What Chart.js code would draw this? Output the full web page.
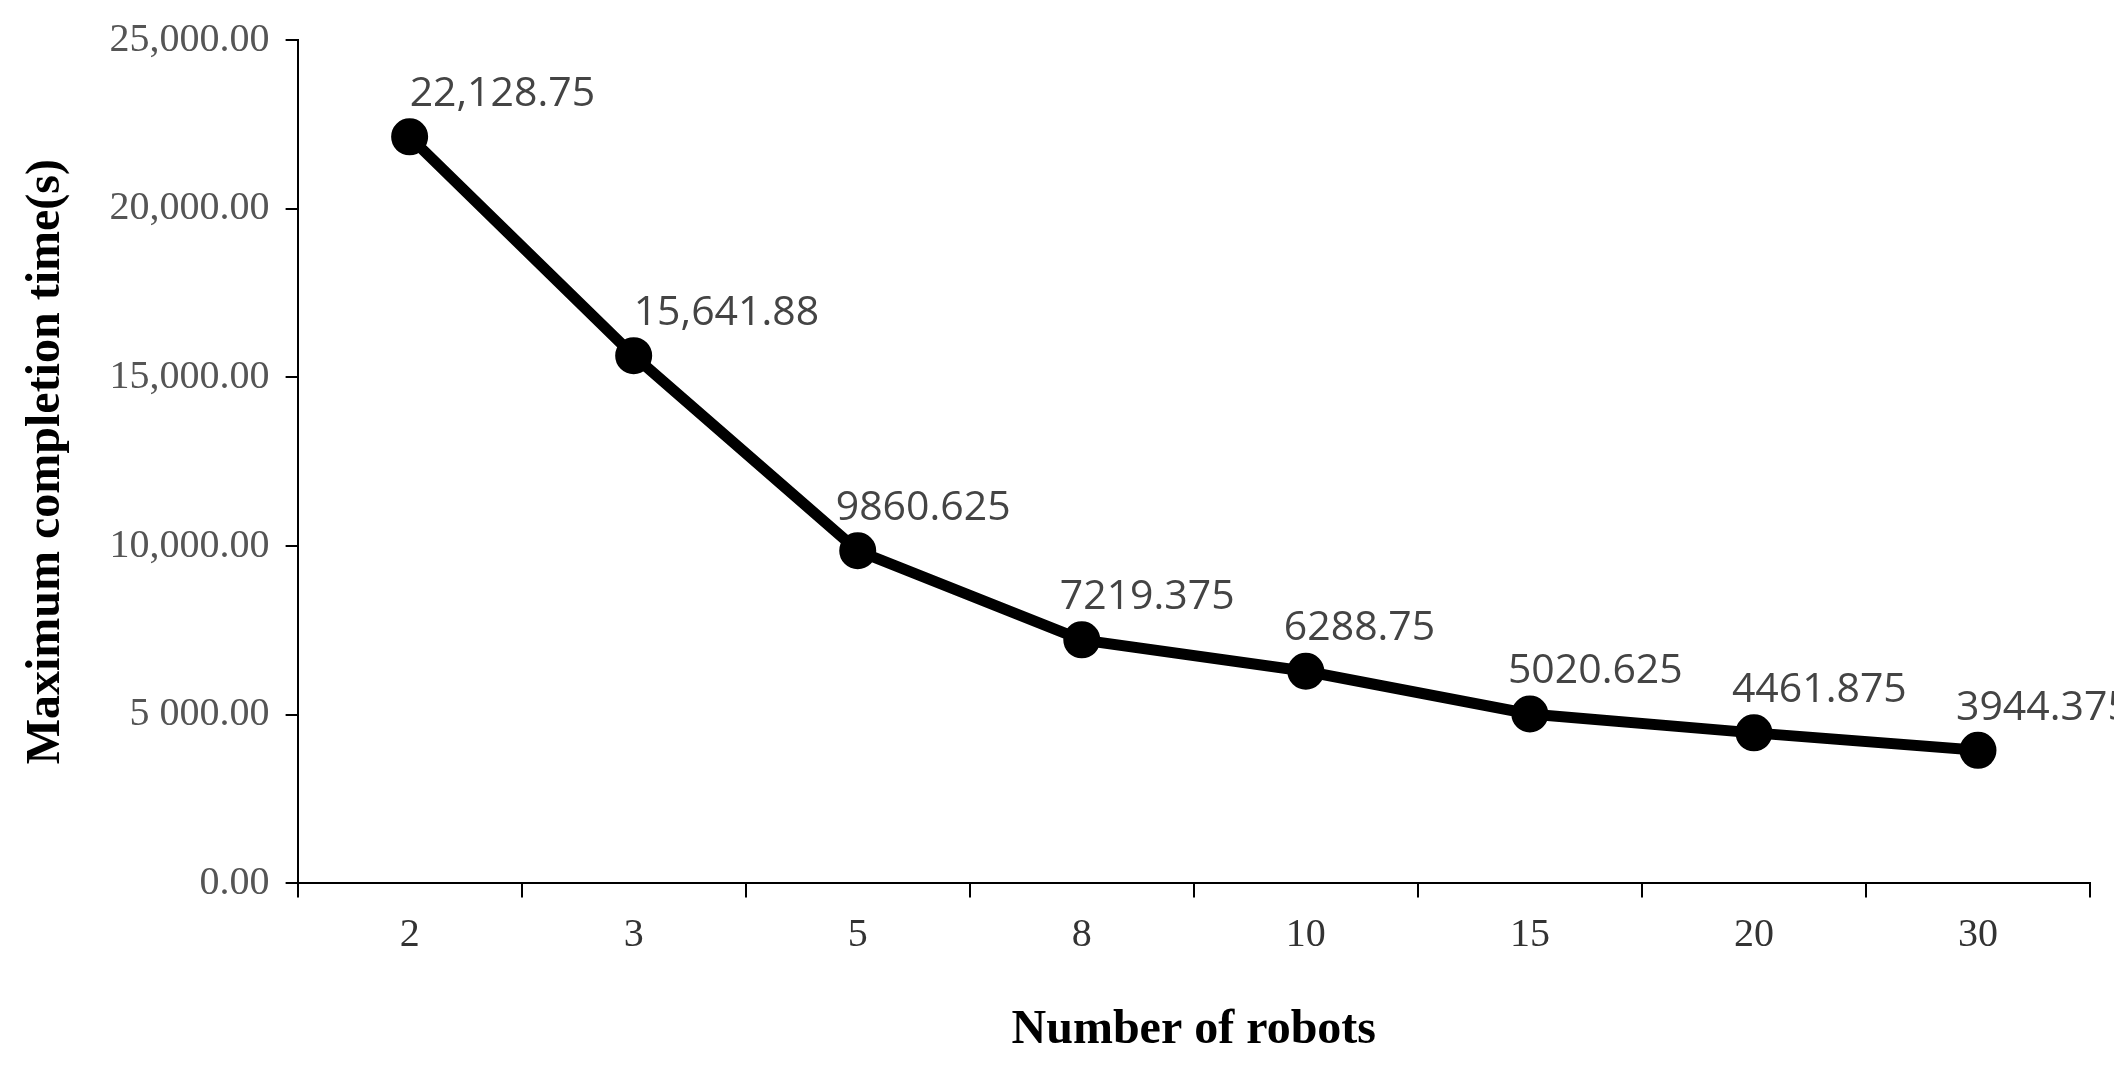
<!DOCTYPE html>
<html>
<head>
<meta charset="utf-8">
<script src="https://cdn.jsdelivr.net/npm/chart.js@4"></script>
<style>
  html, body { margin: 0; padding: 0; background: #fff; }
  #wrap { width: 2114px; height: 1081px; }
</style>
</head>
<body>
<div id="wrap"><canvas id="grafico"></canvas></div>
<script>
// dados
const robots = ['2', '3', '5', '8', '10', '15', '20', '30'];
const completionTime = [22128.75, 15641.88, 9860.625, 7219.375, 6288.75, 5020.625, 4461.875, 3944.375];
const pointLabels = ['22,128.75', '15,641.88', '9860.625', '7219.375', '6288.75', '5020.625', '4461.875', '3944.375'];
const yTickLabels = { 0: '0.00', 5000: '5 000.00', 10000: '10,000.00', 15000: '15,000.00', 20000: '20,000.00', 25000: '25,000.00' };

// rótulos dos pontos
const rotulos = {
  id: 'rotulos',
  afterDatasetsDraw(chart) {
    const ctx = chart.ctx;
    const meta = chart.getDatasetMeta(0);
    ctx.save();
    ctx.font = '41px "Open Sans", sans-serif';
    ctx.fillStyle = '#444';
    ctx.textAlign = 'left';
    ctx.textBaseline = 'bottom';
    meta.data.forEach((p, i) => {
      const dx = i < 2 ? 0 : -22;
      ctx.fillText(pointLabels[i], p.x + dx, p.y - 22);
    });
    ctx.restore();
  }
};

new Chart(document.getElementById('grafico'), {
  type: 'line',
  data: {
    labels: robots,
    datasets: [{
      data: completionTime,
      borderColor: '#000',
      backgroundColor: '#000',
      borderWidth: 11,
      pointRadius: 13,
      pointBackgroundColor: '#000',
      tension: 0
    }]
  },
  plugins: [rotulos],
  options: {
    responsive: true,
    maintainAspectRatio: false,
    animation: false,
    layout: { padding: { top: 38, right: 10, left: 14, bottom: 18 } },
    plugins: { legend: { display: false }, tooltip: { enabled: false } },
    scales: {
      x: {
        offset: true,
        grid: { offset: true, drawOnChartArea: false, tickLength: 14, color: '#000', lineWidth: 2 },
        border: { color: '#000', width: 2 },
        ticks: { color: '#333', font: { family: '"Liberation Serif", serif', size: 40 }, padding: 14 },
        title: {
          display: true, text: 'Number of robots', color: '#000',
          font: { family: '"Liberation Serif", serif', size: 48, weight: 'bold' }, padding: { top: 28 }
        }
      },
      y: {
        min: 0, max: 25000,
        grid: { drawOnChartArea: false, tickLength: 12, color: '#000', lineWidth: 2 },
        border: { color: '#000', width: 2 },
        ticks: {
          stepSize: 5000, color: '#555', padding: 16,
          font: { family: '"Liberation Serif", serif', size: 40 },
          callback: v => yTickLabels[v]
        },
        title: {
          display: true, text: 'Maximum completion time(s)', color: '#000',
          font: { family: '"Liberation Serif", serif', size: 48, weight: 'bold' }, padding: { bottom: 18 }
        }
      }
    }
  }
});
</script>
</body>
</html>
